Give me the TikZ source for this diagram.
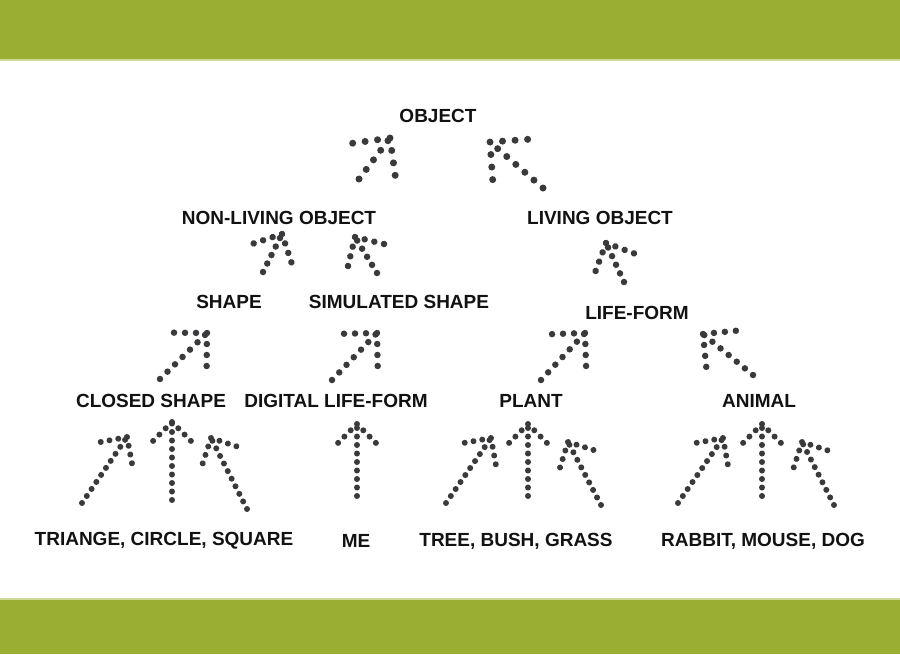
\documentclass[tikz,border=0pt]{standalone}
\usepackage{fontspec}
\setmainfont{Liberation Sans}
\usepackage{xcolor}
\usepackage{tikz}
\usetikzlibrary{calc, decorations.markings}
\definecolor{bargreen}{RGB}{155,174,52}
\definecolor{barlight}{RGB}{205,218,150}
\definecolor{dotgray}{RGB}{58,58,60}
\definecolor{txtdark}{RGB}{18,18,18}
\tikzset{
  term/.style={font=\fontsize{19}{22}\selectfont\bfseries, text=txtdark, inner sep=2pt},
  dotarrow/.style 2 args={draw=dotgray, line width=#2, line cap=round,
    dash pattern=on 0pt off #1,
    postaction={decorate, decoration={markings, mark=at position 1 with {
      \foreach \k in {0,...,3} {
        \fill[dotgray] (-0.74*\k*#1, 0.74*\k*#1) circle[radius=#2/2]
                       (-0.74*\k*#1, -0.74*\k*#1) circle[radius=#2/2];
      }}}}}
}
\begin{document}
\begin{tikzpicture}[x=1pt, y=-1pt]
  \useasboundingbox (0,0) rectangle (900,654);
  % Bars
  \fill[white] (0,0) rectangle (900,654);
  \fill[bargreen] (0,0) rectangle (900,59);
  \fill[barlight] (0,59) rectangle (900,61);
  \fill[barlight] (0,598) rectangle (900,600);
  \fill[bargreen] (0,600) rectangle (900,654);

  % Labels
  \node[term] (object) at (438,116) {OBJECT};
  \node[term] (nonliving) at (279,218) {NON-LIVING OBJECT};
  \node[term] (living) at (600,218) {LIVING OBJECT};
  \node[term] (shape) at (229,302) {SHAPE};
  \node[term] (simulated) at (399,302) {SIMULATED SHAPE};
  \node[term] (lifeform) at (637,313) {LIFE-FORM};
  \node[term] (closed) at (151,401) {CLOSED SHAPE};
  \node[term] (digital) at (336,401) {DIGITAL LIFE-FORM};
  \node[term] (plant) at (531,401) {PLANT};
  \node[term] (animal) at (759,401) {ANIMAL};
  \node[term] (shapes) at (164,541) {TRIANGE, CIRCLE, SQUARE};
  \node[term] (me) at (356,541) {ME};
  \node[term] (plants) at (516,541) {TREE, BUSH, GRASS};
  \node[term] (animals) at (763,541) {RABBIT, MOUSE, DOG};

  % Top level
  \draw[dotarrow={12pt}{7pt}] ($(nonliving)+(80,-39)$) -- ($(object)+(-48,22)$);
  \draw[dotarrow={12pt}{7pt}] ($(living)+(-57,-30)$) -- ($(object)+(52,26)$);

  % Second level
  \draw[dotarrow={9.5pt}{6.5pt}] ($(shape)+(34,-30)$) -- ($(nonliving)+(3,16)$);
  \draw[dotarrow={9.5pt}{6.5pt}] ($(simulated)+(-22,-29)$) -- ($(nonliving)+(76,19)$);
  \draw[dotarrow={9.5pt}{6.5pt}] ($(lifeform)+(-13,-31)$) -- ($(living)+(6,25)$);

  % Third level
  \draw[dotarrow={10.5pt}{6.5pt}] ($(closed)+(9,-22)$) -- ($(shape)+(-22,31)$);
  \draw[dotarrow={10.5pt}{6.5pt}] ($(digital)+(-4,-21)$) -- ($(simulated)+(-22,31)$);
  \draw[dotarrow={10.5pt}{6.5pt}] ($(plant)+(10,-21)$) -- ($(lifeform)+(-52,20)$);
  \draw[dotarrow={10.5pt}{6.5pt}] ($(animal)+(-6,-26)$) -- ($(lifeform)+(66,21)$);

  % Instances
  \draw[dotarrow={8.5pt}{6pt}] ($(shapes)+(-82,-38)$) -- ($(closed)+(-24,36)$);
  \draw[dotarrow={8.5pt}{6pt}] ($(shapes)+(8,-41)$) -- ($(closed)+(21,21)$);
  \draw[dotarrow={8.5pt}{6pt}] ($(shapes)+(83,-32)$) -- ($(closed)+(60,37)$);
  \draw[dotarrow={8.5pt}{6pt}] ($(me)+(1,-45)$) -- ($(digital)+(21,23)$);
  \draw[dotarrow={8.5pt}{6pt}] ($(plants)+(-70,-38)$) -- ($(plant)+(-40,37)$);
  \draw[dotarrow={8.5pt}{6pt}] ($(plants)+(12,-45)$) -- ($(plant)+(-3,23)$);
  \draw[dotarrow={8.5pt}{6pt}] ($(plants)+(85,-36)$) -- ($(plant)+(37,41)$);
  \draw[dotarrow={8.5pt}{6pt}] ($(animals)+(-85,-38)$) -- ($(animal)+(-36,37)$);
  \draw[dotarrow={8.5pt}{6pt}] ($(animals)+(-1,-45)$) -- ($(animal)+(3,23)$);
  \draw[dotarrow={8.5pt}{6pt}] ($(animals)+(71,-36)$) -- ($(animal)+(43,41)$);
\end{tikzpicture}
\end{document}
